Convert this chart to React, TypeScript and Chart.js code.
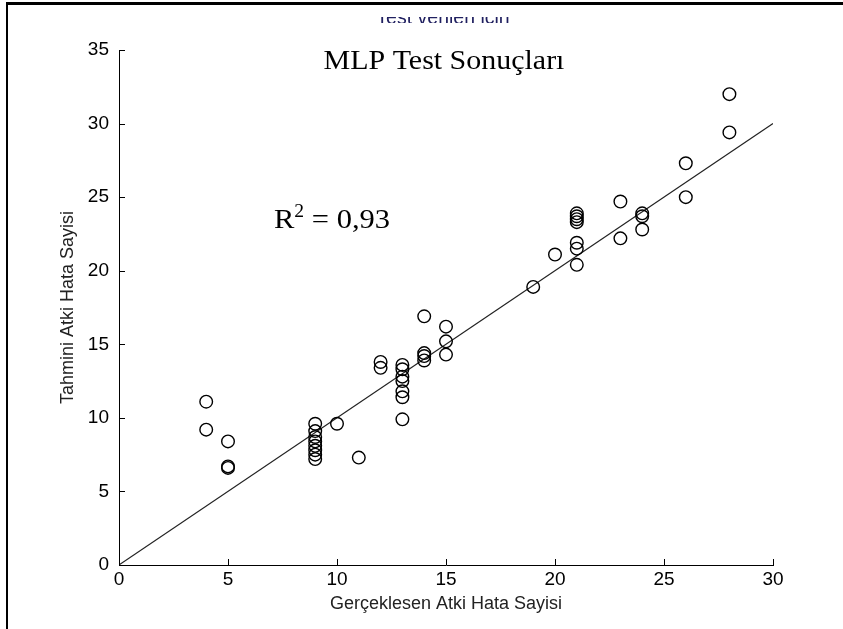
import React, { useEffect, useRef } from "react";
import { Chart, registerables } from "chart.js";

Chart.register(...registerables);

// Observed (actual) weft error counts
const actualErrors = [
  4, 4, 5, 5, 5,
  9, 9, 9, 9, 9, 9, 9, 9,
  10, 11, 12, 12,
  13, 13, 13, 13, 13, 13, 13,
  14, 14, 14, 14,
  15, 15, 15,
  19, 20,
  21, 21, 21, 21, 21, 21, 21,
  23, 23, 24, 24, 24, 26, 26, 28, 28,
];
// MLP predicted weft error counts
const predictedErrors = [
  11.1, 9.2, 8.4, 6.7, 6.6,
  9.6, 9.1, 8.7, 8.4, 8.1, 7.8, 7.5, 7.2,
  9.6, 7.3, 13.8, 13.4,
  13.6, 13.3, 12.8, 12.5, 11.8, 11.4, 9.9,
  16.9, 14.4, 14.2, 13.9,
  16.2, 15.2, 14.3,
  18.9, 21.1,
  23.9, 23.7, 23.5, 23.3, 21.9, 21.5, 20.4,
  24.7, 22.2, 23.9, 23.7, 22.8, 27.3, 25.0, 32.0, 29.4,
];
// Regression (y = x) line
const fitX = [0, 30];
const fitY = [0, 30];

const xTicks = [0, 5, 10, 15, 20, 25, 30];
const yTicks = [0, 5, 10, 15, 20, 25, 30, 35];

const chartTitle = "MLP Test Sonuçları";
const hiddenTitle = "Test verileri için";
const r2Label = "R";
const r2Sup = "2";
const r2Value = " = 0,93";
const xTitle = "Gerçeklesen Atki Hata Sayisi";
const yTitle = "Tahmini Atki Hata Sayisi";

const W = 843;
const H = 629;

const serif = '"Liberation Serif", "Times New Roman", serif';

const decorPlugin = {
  id: "decor",
  afterDraw(chart: any) {
    const ctx = chart.ctx as CanvasRenderingContext2D;
    const xs = chart.scales.x;
    const ys = chart.scales.y;
    ctx.save();
    // inward ticks
    ctx.strokeStyle = "#000";
    ctx.lineWidth = 1;
    ctx.beginPath();
    xTicks.forEach((v) => {
      const px = Math.round(xs.getPixelForValue(v)) + 0.5;
      ctx.moveTo(px, ys.bottom);
      ctx.lineTo(px, ys.bottom - 6);
    });
    yTicks.forEach((v) => {
      const py = Math.round(ys.getPixelForValue(v)) + 0.5;
      ctx.moveTo(xs.left, py);
      ctx.lineTo(xs.left + 6, py);
    });
    ctx.stroke();

    // frame lines (left + top)
    ctx.fillStyle = "#000";
    ctx.fillRect(6, 2, 2, H - 2);
    ctx.fillRect(6, 2, W - 6, 3);

    // clipped subtitle at top
    ctx.save();
    ctx.beginPath();
    ctx.rect(0, 17, W, 6);
    ctx.clip();
    ctx.fillStyle = "#202060";
    ctx.font = '19.5px "Liberation Sans", Arial, sans-serif';
    ctx.textAlign = "center";
    ctx.textBaseline = "alphabetic";
    ctx.fillText(hiddenTitle, 443, 24);
    ctx.restore();

    // main serif title
    ctx.fillStyle = "#000";
    ctx.save();
    ctx.translate(444, 69);
    ctx.scale(1.07, 1);
    ctx.font = "28px " + serif;
    ctx.textAlign = "center";
    ctx.textBaseline = "alphabetic";
    ctx.fillText(chartTitle, 0, 0);
    ctx.restore();

    // R^2 annotation
    ctx.save();
    ctx.translate(274, 228);
    ctx.scale(1.09, 1);
    ctx.textAlign = "left";
    ctx.textBaseline = "alphabetic";
    ctx.font = "28px " + serif;
    ctx.fillText(r2Label, 0, 0);
    let w = ctx.measureText(r2Label).width;
    ctx.font = "18px " + serif;
    ctx.fillText(r2Sup, w, -11);
    w += ctx.measureText(r2Sup).width;
    ctx.font = "28px " + serif;
    ctx.fillText(r2Value, w, 0);
    ctx.restore();

    ctx.restore();
  },
};

export default function App() {
  const ref = useRef<HTMLCanvasElement | null>(null);
  useEffect(() => {
    if (!ref.current) return;
    const points = actualErrors.map((x, i) => ({ x, y: predictedErrors[i] }));
    const line = fitX.map((x, i) => ({ x, y: fitY[i] }));
    const tickFont = { family: '"Liberation Sans", Arial, sans-serif', size: 19 };
    const titleFont = { family: '"Liberation Sans", Arial, sans-serif', size: 18 };
    const chart = new Chart(ref.current, {
      type: "scatter",
      data: {
        datasets: [
          {
            type: "line",
            data: line,
            borderColor: "#222",
            borderWidth: 1.1,
            pointRadius: 0,
            fill: false,
            order: 2,
          } as any,
          {
            type: "scatter",
            data: points,
            pointStyle: "circle",
            pointRadius: 6.3,
            pointBorderWidth: 1.4,
            borderColor: "#000",
            backgroundColor: "rgba(0,0,0,0)",
            order: 1,
          } as any,
        ],
      },
      options: {
        animation: false,
        responsive: false,
        maintainAspectRatio: false,
        devicePixelRatio: 1,
        layout: { padding: { left: 53, right: 70, top: 50, bottom: 10 } },
        plugins: {
          legend: { display: false },
          tooltip: { enabled: false },
          title: { display: false },
        },
        scales: {
          x: {
            type: "linear",
            min: 0,
            max: 30,
            afterFit: (s: any) => {
              s.height = H - 10 - 565;
            },
            afterBuildTicks: (s: any) => {
              s.ticks = xTicks.map((v) => ({ value: v }));
            },
            ticks: { color: "#000", font: tickFont, padding: 3, maxRotation: 0 },
            grid: { display: true, drawOnChartArea: false, drawTicks: false },
            border: { display: true, color: "#000", width: 1 },
            title: {
              display: true,
              text: xTitle,
              color: "#222",
              font: titleFont,
              padding: { top: 0, bottom: 4 },
            },
          },
          y: {
            type: "linear",
            min: 0,
            max: 35,
            afterFit: (s: any) => {
              s.width = 119 - 53;
            },
            afterBuildTicks: (s: any) => {
              s.ticks = yTicks.map((v) => ({ value: v }));
            },
            ticks: { color: "#000", font: tickFont, padding: 10 },
            grid: { display: true, drawOnChartArea: false, drawTicks: false },
            border: { display: true, color: "#000", width: 1 },
            title: {
              display: true,
              text: yTitle,
              color: "#222",
              font: titleFont,
              padding: { top: 4, bottom: 0 },
            },
          },
        },
      },
      plugins: [decorPlugin],
    });
    return () => chart.destroy();
  }, []);
  return (
    <div style={{ position: "fixed", left: 0, top: 0, width: W, height: H, background: "#fff" }}>
      <canvas ref={ref} width={W} height={H} style={{ width: W, height: H, display: "block" }} />
    </div>
  );
}
